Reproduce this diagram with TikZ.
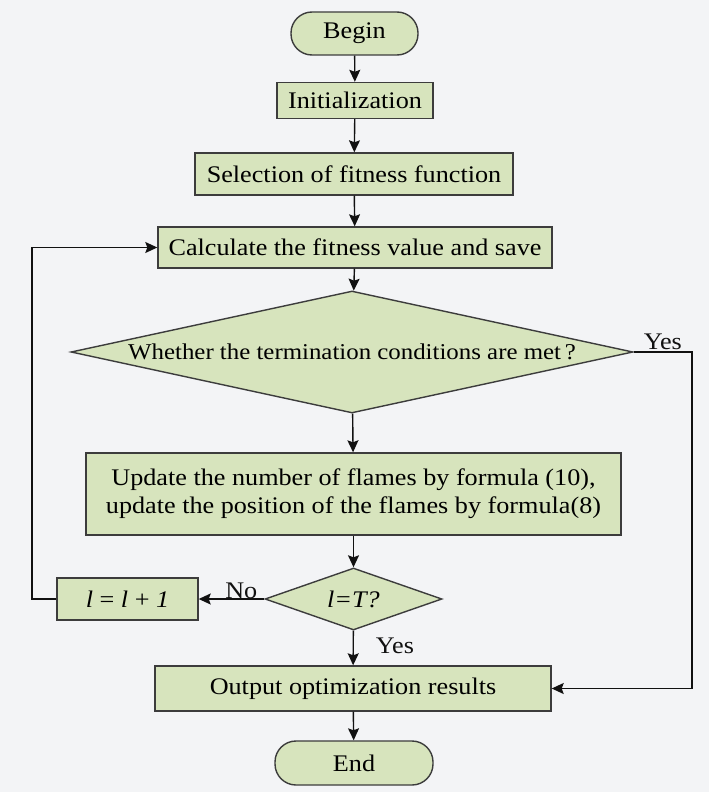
\documentclass[tikz,border=0pt]{standalone}
\usepackage{fontspec}
\setmainfont{Liberation Serif}[FakeStretch=1.1]
\usetikzlibrary{arrows.meta, shapes.geometric, calc}

\begin{document}
\begin{tikzpicture}[
    every node/.style={font=\fontsize{23.8}{28}\selectfont},
    % pixel coordinates: 709 x 792, y grows downwards
    x=1pt, y=-1pt,
]

% ---------------------------------------------------------------- colours
\definecolor{bgcolor}{HTML}{F3F4F6}
\definecolor{boxfill}{HTML}{D7E4BD}
\definecolor{boxline}{HTML}{3C3C3C}
\definecolor{flowcolor}{HTML}{111111}

\tikzset{
    stepbox/.style={rectangle, draw=boxline, fill=boxfill, line width=1.4pt,
                    inner sep=0pt, align=center},
    terminal/.style={stepbox, rounded corners=21pt},
    decision/.style={diamond, draw=boxline, fill=boxfill, line width=1.4pt,
                     inner sep=0pt},
    flow/.style={-{Stealth[length=12pt, width=11pt, inset=2pt]},
                 line width=1.4pt, flowcolor},
    lbl/.style={inner sep=2pt},
}

% ---------------------------------------------------------------- background
\fill[bgcolor] (0, 0) rectangle (709, 792);
\useasboundingbox (0, 0) rectangle (709, 792);

% ---------------------------------------------------------------- boxes
\node[terminal, minimum width=127, minimum height=43] (begin)
    at (354.5, 33.5) {Begin};
\node[stepbox, minimum width=156, minimum height=36] (init)
    at (355, 100.5) {Initialization};
\node[stepbox, minimum width=318, minimum height=42] (select)
    at (354, 174) {Selection of fitness function};
\node[stepbox, minimum width=394, minimum height=41] (calc)
    at (355, 247.5) {Calculate the fitness value and save};
\node[decision, minimum width=562, minimum height=122, aspect=4.6,
      font=\fontsize{22.6}{27}\selectfont] (cond)
    at (352, 352) {Whether the termination conditions are met\,?};
\node[stepbox, minimum width=535, minimum height=82] (update)
    at (353.5, 494) {Update the number of flames by formula (10),\\
                     update the position of the flames by formula(8)};
\node[decision, minimum width=177, minimum height=62, aspect=3] (check)
    at (353.5, 599) {\textit{l=T?}};
\node[stepbox, minimum width=141, minimum height=42] (incr)
    at (127.5, 599) {\textit{l} = \textit{l} + \textit{1}};
\node[stepbox, minimum width=396, minimum height=45] (output)
    at (353, 688.5) {Output optimization results};
\node[terminal, minimum width=158, minimum height=44] (finish)
    at (354, 763) {End};

% ---------------------------------------------------------------- main flow
\draw[flow] (begin) -- (init);
\draw[flow] (init) -- (select);
\draw[flow] (select) -- (calc);
\draw[flow] (calc) -- (cond);
\draw[flow] (cond) -- (update);
\draw[flow] (update) -- (check);
\draw[flow] (check) -- node[lbl, right, pos=0.45, xshift=20pt] {Yes} (output);
\draw[flow] (output) -- (finish);

% ---------------------------------------------------------------- branches
\coordinate (yesturn) at (692, 352);
\draw[flow] (cond.east) -- node[lbl, above] {Yes} (yesturn) |- (output.east);

\draw[flow] (check.west) -- node[lbl, above, pos=0.35, inner sep=0pt] {No} (incr.east);

\coordinate (loopturn) at (32, 599);
\draw[flow] (incr.west) -- (loopturn) |- (calc.west);

\end{tikzpicture}
\end{document}
